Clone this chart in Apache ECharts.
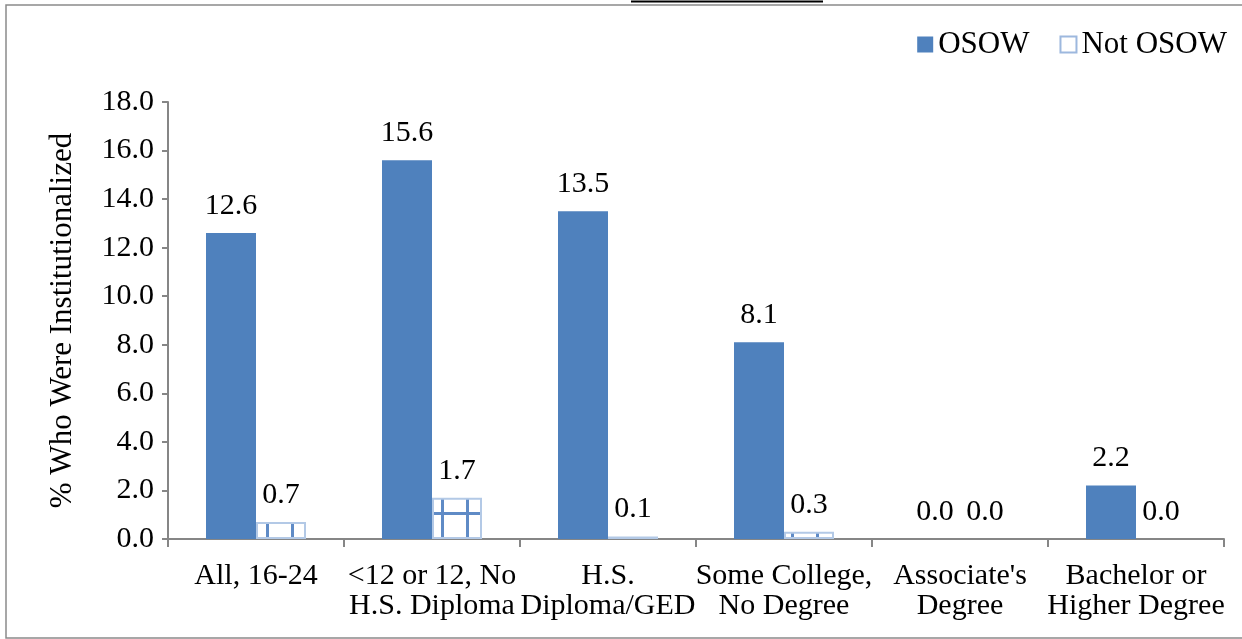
<!DOCTYPE html>
<html><head><meta charset="utf-8">
<script src="https://cdn.jsdelivr.net/npm/echarts@6/dist/echarts.min.js"></script>
<style>html,body{margin:0;padding:0;background:#fff}#c{width:1242px;height:639px}</style>
</head><body><div id="c"></div>
<script>
var categories = ["All, 16-24", "<12 or 12, No\nH.S. Diploma", "H.S.\nDiploma/GED", "Some College,\nNo Degree", "Associate's\nDegree", "Bachelor or\nHigher Degree"];
var osow = [12.6, 15.6, 13.5, 8.1, 0.0, 2.2];
var notOsow = [0.7, 1.7, 0.1, 0.3, 0.0, 0.0];
var yTicks = {min: 0, max: 18, interval: 2};

var FONT = "'Liberation Serif', 'Times New Roman', serif";
var pc = document.createElement('canvas');
pc.width = 25; pc.height = 25;
var g = pc.getContext('2d');
g.fillStyle = '#ffffff'; g.fillRect(0, 0, 25, 25);
g.fillStyle = '#5f8bc6';
g.fillRect(16, 0, 3, 25);
g.fillRect(0, 12, 25, 3);

function fmt(p) { return Number(p.value).toFixed(1); }
var notOsowData = notOsow.map(function (v) {
  return {value: v, itemStyle: {borderWidth: v === 0 ? 0 : 2}};
});

var chart = echarts.init(document.getElementById('c'));
chart.setOption({
  animation: false,
  textStyle: {fontFamily: FONT},
  graphic: [
    {type: 'rect', shape: {x: 6, y: 5, width: 1300, height: 633}, style: {fill: 'none', stroke: '#8a8a8a', lineWidth: 1.5}, silent: true},
    {type: 'line', shape: {x1: 631, y1: 1.5, x2: 823, y2: 1.5}, style: {stroke: '#000', lineWidth: 2}, silent: true}
  ],
  legend: {
    right: 10, top: 24, itemWidth: 16, itemHeight: 16, itemGap: 30,
    textStyle: {fontFamily: FONT, fontSize: 31, color: '#000'},
    data: [
      {name: 'OSOW', icon: 'rect'},
      {name: 'Not OSOW', icon: 'rect', itemStyle: {color: '#ffffff', borderColor: '#9db8de', borderWidth: 2}}
    ]
  },
  grid: {left: 168, right: 18, top: 102, bottom: 100},
  xAxis: {
    type: 'category', data: categories,
    axisLine: {lineStyle: {color: '#868686', width: 2}},
    axisTick: {show: true, length: 8, lineStyle: {color: '#868686', width: 2}},
    axisLabel: {interval: 0, margin: 22, color: '#000', fontFamily: FONT, fontSize: 30, lineHeight: 30}
  },
  yAxis: {
    type: 'value', min: yTicks.min, max: yTicks.max, interval: yTicks.interval,
    name: '% Who Were Institutionalized', nameLocation: 'middle', nameGap: 90,
    nameTextStyle: {fontFamily: FONT, fontSize: 31, color: '#000'},
    axisLine: {show: true, lineStyle: {color: '#868686', width: 2}},
    axisTick: {show: true, length: 6, lineStyle: {color: '#868686', width: 2}},
    splitLine: {show: false},
    axisLabel: {margin: 14, color: '#000', fontFamily: FONT, fontSize: 30, formatter: function (v) { return v.toFixed(1); }}
  },
  series: [
    {
      name: 'OSOW', type: 'bar', data: osow, barWidth: 50, barGap: '0%',
      itemStyle: {color: '#4f81bd'},
      label: {show: true, position: 'top', distance: 12, color: '#000', fontFamily: FONT, fontSize: 30, formatter: fmt}
    },
    {
      name: 'Not OSOW', type: 'bar', data: notOsowData, barWidth: 50,
      itemStyle: {color: {image: pc, repeat: 'repeat'}, borderColor: '#b3c9e6', borderWidth: 2},
      label: {show: true, position: 'top', distance: 12, color: '#000', fontFamily: FONT, fontSize: 30, formatter: fmt}
    }
  ]
});
</script></body></html>
